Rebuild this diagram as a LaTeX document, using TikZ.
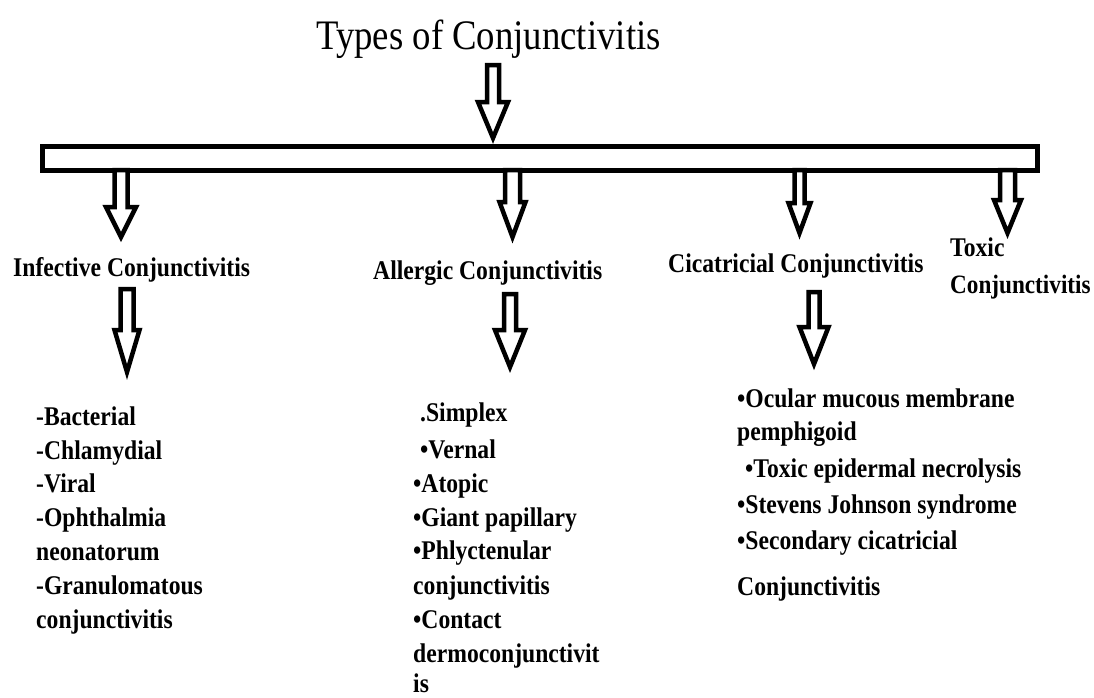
\documentclass[tikz,border=0pt]{standalone}
\usepackage{fontspec}
\newfontfamily\tnr{Liberation Serif}[FakeStretch=0.875]
\newcommand\blockarrow[6]{% cx, top, shoulder, tip, shaft half width, head half width
  \draw[blockarr] ({#1-#5},#2) -- ({#1-#5},#3) -- ({#1-#6},#3) -- (#1,#4)
    -- ({#1+#6},#3) -- ({#1+#5},#3) -- ({#1+#5},#2) -- cycle;}
\begin{document}
\begin{tikzpicture}[x=1pt,y=-1pt,
  blockarr/.style={draw=black, line width=4.5pt, line join=miter, fill=white},
  title/.style={inner sep=0pt, anchor=base west, font=\tnr\fontsize{42}{46}\selectfont},
  head/.style={inner sep=0pt, anchor=base west, font=\tnr\bfseries\fontsize{27}{30}\selectfont},
  item/.style={inner sep=0pt, anchor=base west, font=\tnr\bfseries\fontsize{27}{30}\selectfont}]
\useasboundingbox[fill=white] (0,0) rectangle (1094,697);

% title
\node[title] (title) at (316,49) {Types of Conjunctivitis};

% bar
\node[draw=black, line width=5pt, inner sep=0pt, minimum width=994.5pt, minimum height=24pt,
      anchor=north west] (bar) at (40,143.5) {};

% arrows
\blockarrow{493}{65}{102}{138}{6}{15}
\blockarrow{121}{170}{207}{237}{6.5}{15}
\blockarrow{127}{289}{330}{372}{6.5}{12.5}
\blockarrow{512.5}{170}{202}{237}{7.5}{13}
\blockarrow{510}{294}{330}{367}{6}{15}
\blockarrow{799.5}{170}{203}{233}{5}{11}
\blockarrow{814}{292}{327}{364}{5.5}{14.5}
\blockarrow{1007.5}{170}{200}{233}{7.5}{13.5}

% headers
\node[head] (inf) at (13,276) {Infective Conjunctivitis};
\node[head] (all) at (373,279) {Allergic Conjunctivitis};
\node[head] (cic) at (668,272) {Cicatricial Conjunctivitis};
\node[head] (tox1) at (950,256) {Toxic};
\node[head, font=\tnr\bfseries\fontsize{26.5}{30}\selectfont] (tox2) at (950,293) {Conjunctivitis};

% infective list
\node[item] (i1) at (36,425) {-Bacterial};
\node[item] (i2) at (36,459) {-Chlamydial};
\node[item] (i3) at (36,492) {-Viral};
\node[item] (i4) at (36,526) {-Ophthalmia};
\node[item] (i5) at (36,560) {neonatorum};
\node[item] (i6) at (36,594) {-Granulomatous};
\node[item] (i7) at (36,628) {conjunctivitis};

% allergic list
\node[item] (a1) at (420,421) {.Simplex};
\node[item] (a2) at (420,458) {•Vernal};
\node[item] (a3) at (413,492) {•Atopic};
\node[item] (a4) at (413,526) {•Giant papillary};
\node[item] (a5) at (413,559) {•Phlyctenular};
\node[item] (a6) at (413,594) {conjunctivitis};
\node[item] (a7) at (413,628) {•Contact};
\node[item] (a8) at (413,662) {dermoconjunctivit};
\node[item] (a9) at (413,692) {is};

% cicatricial list
\node[item] (c1) at (737,407) {•Ocular mucous membrane};
\node[item] (c2) at (737,440) {pemphigoid};
\node[item] (c3) at (745,477) {•Toxic epidermal necrolysis};
\node[item] (c4) at (737,513) {•Stevens Johnson syndrome};
\node[item] (c5) at (737,549) {•Secondary cicatricial};
\node[item] (c6) at (737,595) {Conjunctivitis};
\end{tikzpicture}
\end{document}
